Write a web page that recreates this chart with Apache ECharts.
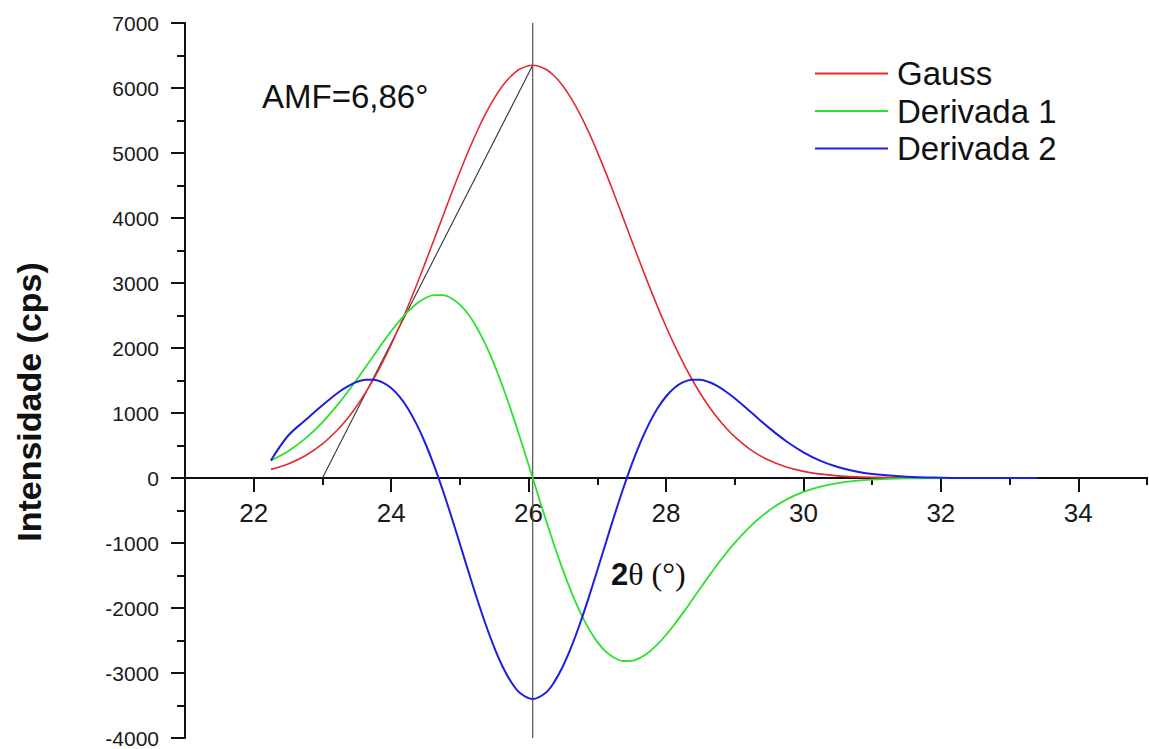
<!DOCTYPE html>
<html>
<head>
<meta charset="utf-8">
<script src="https://cdn.jsdelivr.net/npm/echarts@6/dist/echarts.min.js"></script>
<style>
  html, body { margin: 0; padding: 0; background: #ffffff; }
  #chart { width: 1149px; height: 749px; }
</style>
</head>
<body>
<div id="chart"></div>
<script>
// 2θ positions (degrees)
const twoTheta = [22.25, 22.5, 22.75, 23.0, 23.25, 23.375, 23.5, 23.625, 23.75, 23.875,
  24.0, 24.125, 24.25, 24.375, 24.5, 24.625, 24.75, 24.875, 25.0, 25.125,
  25.25, 25.375, 25.5, 25.625, 25.75, 25.875, 26.06, 26.25, 26.375, 26.5,
  26.625, 26.75, 26.875, 27.0, 27.125, 27.25, 27.375, 27.5, 27.625, 27.75,
  27.875, 28.0, 28.125, 28.25, 28.375, 28.5, 28.625, 28.75, 28.875, 29.0,
  29.25, 29.5, 29.75, 30.0, 30.25, 30.5, 30.75, 31.0, 31.5, 32.0,
  32.5, 33.0, 33.4];

// Intensities (cps)
const gauss = [133, 217, 343, 524, 775, 930, 1108, 1309, 1533, 1780,
  2050, 2342, 2653, 2980, 3321, 3669, 4020, 4368, 4708, 5031,
  5331, 5604, 5841, 6038, 6189, 6292, 6350, 6289, 6184, 6031,
  5832, 5594, 5320, 5018, 4694, 4355, 4006, 3655, 3307, 2967,
  2640, 2330, 2039, 1770, 1523, 1300, 1101, 924, 769, 635,
  422, 272, 169, 102, 59, 33, 18, 10, 2, 0,
  0, 0, 0];

const derivada1 = [270, 413, 606, 857, 1164, 1335, 1516, 1703, 1892, 2079,
  2257, 2422, 2566, 2684, 2769, 2814, 2814, 2766, 2667, 2514,
  2308, 2051, 1748, 1404, 1025, 622, 0, -639, -1041, -1418,
  -1761, -2063, -2317, -2521, -2672, -2769, -2815, -2813, -2766, -2680,
  -2561, -2415, -2250, -2071, -1884, -1695, -1509, -1328, -1157, -998,
  -720, -499, -333, -214, -132, -79, -45, -25, -7, -1,
  0, 0, 0];

const derivada2 = [270, 650, 888, 1119, 1331, 1415, 1478, 1513, 1513, 1471,
  1384, 1248, 1059, 818, 527, 191, -184, -589, -1012, -1439,
  -1857, -2250, -2605, -2907, -3144, -3308, -3400, -3303, -3136, -2896,
  -2592, -2235, -1840, -1422, -995, -572, -169, 205, 540, 829,
  1068, 1254, 1389, 1474, 1513, 1512, 1476, 1413, 1327, 1226,
  1000, 771, 566, 396, 264, 169, 104, 61, 19, 5,
  1, 0, 0];

// construction lines: peak marker and the line from the baseline to the peak
const peakLineX = [26.06, 26.06];
const peakLineY = [-4000, 7000];
const slopeLineX = [23.0, 26.06];
const slopeLineY = [0, 6350];

// axis ticks
const xMajorTicks = [22, 24, 26, 28, 30, 32, 34];
const xMinorTicks = [23, 25, 27, 29, 31, 33, 35];

const seriesNames = ['Gauss', 'Derivada 1', 'Derivada 2'];
const amfText = 'AMF=6,86°';

const pairs = (xs, ys) => xs.map((x, i) => [x, ys[i]]);

const chart = echarts.init(document.getElementById('chart'), null, { renderer: 'svg' });

const axisColor = '#111111';
const font = 'Liberation Sans, Arial, sans-serif';

// plot area
const gridTop = 23, gridBottom = 11, chartHeight = 749;
const yMin = -4000, yMax = 7000;
// the x axis runs along y = 0: shift it up from the bottom edge of the plot
const plotHeight = chartHeight - gridTop - gridBottom;
const zeroOffset = -plotHeight * (0 - yMin) / (yMax - yMin);

const xAxisBase = {
  type: 'value', min: 21, max: 35, position: 'bottom', offset: zeroOffset,
  axisLine: { show: true, onZero: false, lineStyle: { color: axisColor, width: 2 } },
  splitLine: { show: false }
};

chart.setOption({
  animation: false,
  backgroundColor: '#ffffff',
  grid: { left: 185, right: 2, top: gridTop, bottom: gridBottom, containLabel: false, outerBoundsMode: 'none' },
  legend: {
    orient: 'vertical',
    left: 809,
    top: 50,
    itemWidth: 73,
    itemHeight: 4,
    itemGap: 0.5,
    data: seriesNames,
    itemStyle: { opacity: 0 },
    textStyle: { fontFamily: font, fontSize: 33, color: '#111', lineHeight: 37, padding: [0, 0, 0, 4] }
  },
  xAxis: [
    Object.assign({}, xAxisBase, {
      axisTick: { show: true, inside: false, length: 14, customValues: xMajorTicks, lineStyle: { color: axisColor, width: 2 } },
      axisLabel: { show: true, customValues: xMajorTicks, margin: 22, fontFamily: font, fontSize: 26, color: '#1a1a1a' }
    }),
    Object.assign({}, xAxisBase, {
      axisTick: { show: true, inside: false, length: 7, customValues: xMinorTicks, lineStyle: { color: axisColor, width: 2 } },
      axisLabel: { show: false }
    })
  ],
  yAxis: {
    type: 'value', min: yMin, max: yMax, interval: 1000,
    axisLine: { show: true, onZero: false, lineStyle: { color: axisColor, width: 2 } },
    axisTick: { show: true, inside: false, length: 14, lineStyle: { color: axisColor, width: 2 } },
    minorTick: { show: true, splitNumber: 2, length: 8, lineStyle: { color: axisColor, width: 2 } },
    axisLabel: { margin: 26, fontFamily: font, fontSize: 21, color: '#1a1a1a', formatter: (v) => String(v) },
    splitLine: { show: false }
  },
  graphic: [
    {
      type: 'text', left: 262, top: 80,
      style: { text: amfText, fontFamily: font, fontSize: 33, fill: '#111' }
    },
    {
      type: 'text', x: 29, y: 402, rotation: Math.PI / 2,
      style: {
        text: 'Intensidade (cps)', fontFamily: font, fontSize: 34, fontWeight: 'bold', fill: '#111',
        align: 'center', verticalAlign: 'middle'
      }
    },
    {
      type: 'text', x: 611, y: 574,
      style: {
        text: '{b|2}{s|θ (°)}', verticalAlign: 'middle', fill: '#111',
        rich: {
          b: { fontFamily: font, fontSize: 31, fontWeight: 'bold', fill: '#111' },
          s: { fontFamily: 'Liberation Serif, Times New Roman, serif', fontSize: 32, fill: '#111' }
        }
      }
    }
  ],
  series: [
    {
      name: 'peak', type: 'line', data: pairs(peakLineX, peakLineY), symbol: 'none', silent: true,
      lineStyle: { color: '#444', width: 1.1 }, z: 1
    },
    {
      name: 'slope', type: 'line', data: pairs(slopeLineX, slopeLineY), symbol: 'none', silent: true,
      lineStyle: { color: '#333', width: 1.1 }, z: 1
    },
    {
      name: seriesNames[0], type: 'line', data: pairs(twoTheta, gauss), symbol: 'none', smooth: 0.35,
      color: '#e42a2e', lineStyle: { color: '#e42a2e', width: 1.6 }, z: 3
    },
    {
      name: seriesNames[1], type: 'line', data: pairs(twoTheta, derivada1), symbol: 'none', smooth: 0.35,
      color: '#2ee02e', lineStyle: { color: '#2ee02e', width: 1.8 }, z: 3
    },
    {
      name: seriesNames[2], type: 'line', data: pairs(twoTheta, derivada2), symbol: 'none', smooth: 0.35,
      color: '#1e1ee0', lineStyle: { color: '#1e1ee0', width: 2 }, z: 4
    }
  ]
});
</script>
</body>
</html>
